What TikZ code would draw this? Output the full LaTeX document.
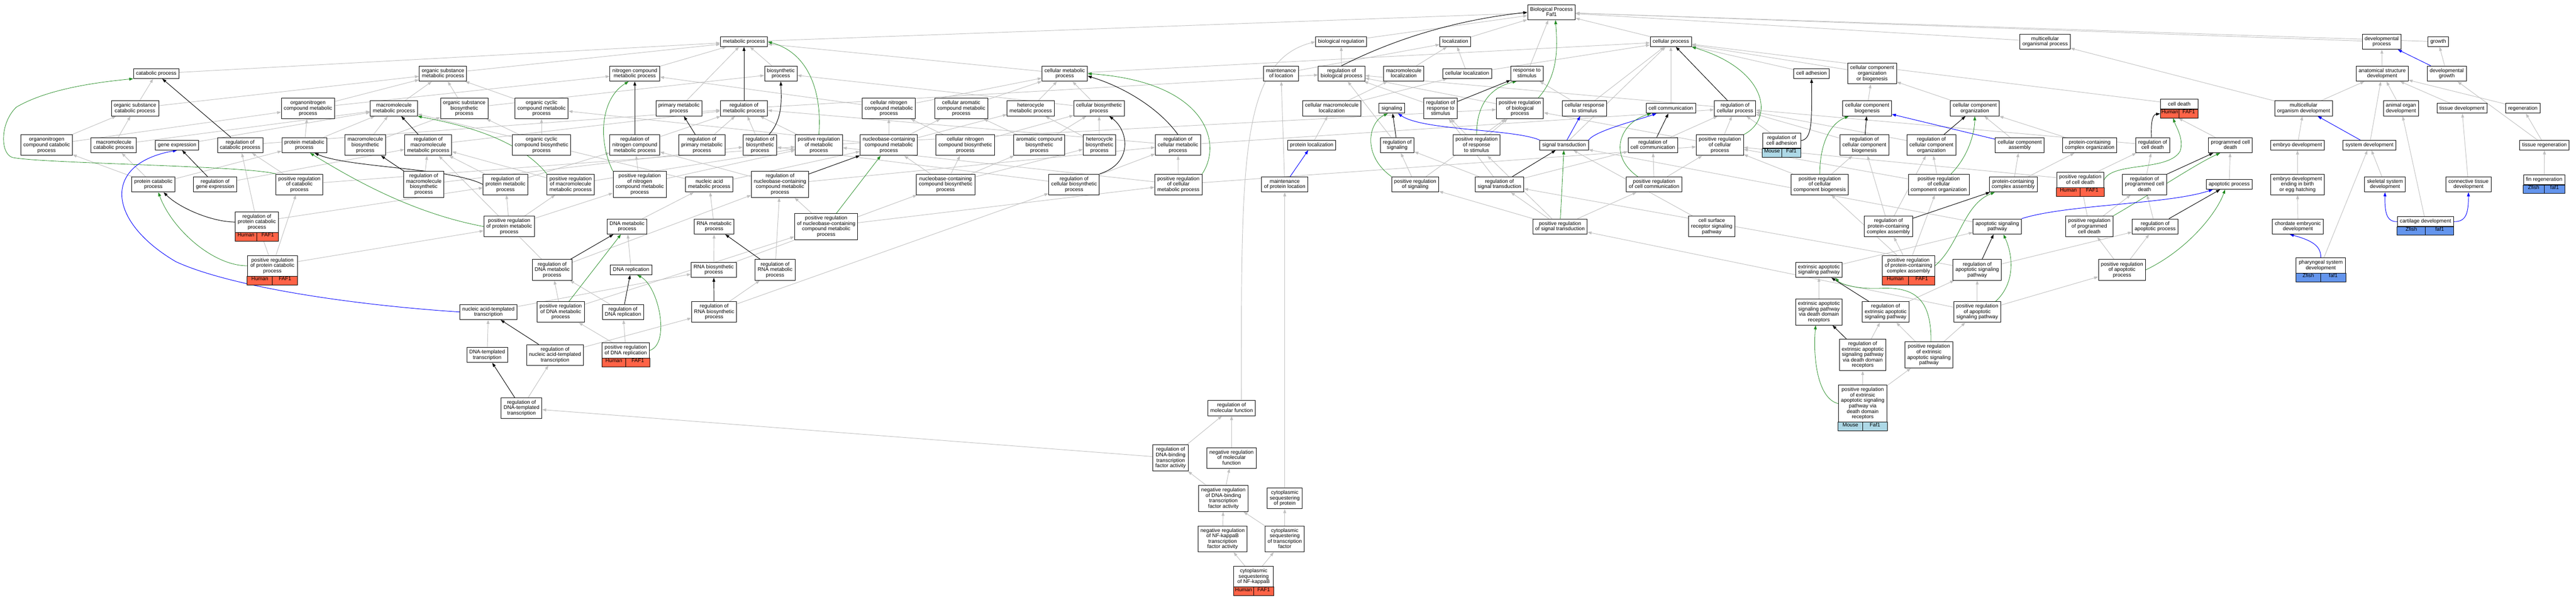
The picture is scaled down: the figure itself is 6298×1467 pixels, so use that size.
\documentclass[tikz,border=0pt]{standalone}
\usepackage{fontspec}
\setmainfont{Liberation Sans}
\usetikzlibrary{arrows.meta,backgrounds,fit}
\definecolor{humanC}{HTML}{FF6347}
\definecolor{mouseC}{HTML}{ADD8E6}
\definecolor{zfishC}{HTML}{6495ED}
\definecolor{isaC}{HTML}{C0C0C0}
\definecolor{posC}{HTML}{228B22}
\newcommand{\boxfont}{\fontsize{12.8}{13.3}\selectfont}
\newcommand{\species}[4]{%
	\node[cellbox, fill=#2, fit={(#1.south west) ([yshift=-21pt]#1.south)}] (#1-l) {#3};
	\node[cellbox, fill=#2, fit={(#1.south) ([yshift=-21pt]#1.south east)}] (#1-r) {#4};}

\begin{document}
\begin{tikzpicture}[x=1pt, y=-1pt,
	term/.style={draw, fill=white, line width=1.2pt, align=center, inner xsep=6pt, inner ysep=6pt, font=\boxfont,
		execute at begin node={\vphantom{Ag}}, execute at end node={\vphantom{g}}},
	cellbox/.style={draw, line width=1.2pt, inner sep=0pt, font=\boxfont},
	isa/.style={draw=isaC, line width=1.2pt, -{Triangle[length=10pt,width=7pt]}},
	reg/.style={isa, draw=black},
	posreg/.style={isa, draw=posC, line width=1pt},
	partof/.style={isa, draw=blue}]
	\useasboundingbox (0,0) rectangle (6298,1467);

	\node[term] (bp) at (3793,30) {Biological Process\\Faf1};
	\node[term] (metab) at (1819,102) {metabolic process};
	\node[term] (bioreg) at (3279,102) {biological regulation};
	\node[term] (loc) at (3558,102) {localization};
	\node[term] (cellp) at (4085,102) {cellular process};
	\node[term] (mop) at (5000,102) {multicellular\\organismal process};
	\node[term] (devp) at (5823,102) {developmental\\process};
	\node[term] (growth) at (5961,102) {growth};

	\node[term] (catab) at (382,180) {catabolic process};
	\node[term] (osmp) at (1083,180) {organic substance\\metabolic process};
	\node[term] (ncmp) at (1552,180) {nitrogen compound\\metabolic process};
	\node[term] (biosyn) at (1909,180) {biosynthetic\\process};
	\node[term] (cmp) at (2603,180) {cellular metabolic\\process};
	\node[term] (mloc) at (3132,180) {maintenance\\of location};
	\node[term] (rbp) at (3280,180) {regulation of\\biological process};
	\node[term] (macloc) at (3432,180) {macromolecule\\localization};
	\node[term] (cloc) at (3587,180) {cellular localization};
	\node[term] (rstim) at (3733,180) {response to\\stimulus};
	\node[term] (cadh) at (4429,180) {cell adhesion};
	\node[term] (ccob) at (4577,180) {cellular component\\organization\\or biogenesis};
	\node[term] (asd) at (5824,180) {anatomical structure\\development};
	\node[term] (devg) at (5982,180) {developmental\\growth};

	\node[term] (oscp) at (330,265) {organic substance\\catabolic process};
	\node[term] (oncmp) at (753,265) {organonitrogen\\compound metabolic\\process};
	\node[term] (mmp) at (963,265) {macromolecule\\metabolic process};
	\node[term] (osbp) at (1135,265) {organic substance\\biosynthetic\\process};
	\node[term] (occmp) at (1324,265) {organic cyclic\\compound metabolic\\process};
	\node[term] (pmp) at (1660,265) {primary metabolic\\process};
	\node[term] (rmp) at (1819,265) {regulation of\\metabolic process};
	\node[term] (cncmp) at (2173,265) {cellular nitrogen\\compound metabolic\\process};
	\node[term] (cacmp) at (2350,265) {cellular aromatic\\compound metabolic\\process};
	\node[term] (hmp) at (2520,265) {heterocycle\\metabolic process};
	\node[term] (cbp) at (2687,265) {cellular biosynthetic\\process};
	\node[term] (cmloc) at (3256,265) {cellular macromolecule\\localization};
	\node[term] (sig) at (3403,265) {signaling};
	\node[term] (rrs) at (3522,265) {regulation of\\response to\\stimulus};
	\node[term] (prbp) at (3716,265) {positive regulation\\of biological\\process};
	\node[term] (crs) at (3874,265) {cellular response\\to stimulus};
	\node[term] (ccom) at (4085,265) {cell communication};
	\node[term] (rcp) at (4242,265) {regulation of\\cellular process};
	\node[term] (ccbio) at (4565,265) {cellular component\\biogenesis};
	\node[term] (ccorg) at (4828,265) {cellular component\\organization};
	\node[term, minimum width=91pt] (cdeath) at (5328,255) {cell death};
	\species{cdeath}{humanC}{Human}{FAF1}
	\node[term] (mod) at (5632,265) {multicellular\\organism development};
	\node[term] (aod) at (5870,265) {animal organ\\development};
	\node[term] (tisd) at (6019,265) {tissue development};
	\node[term] (regen) at (6168,265) {regeneration};

	\node[term] (oncp) at (114,355) {organonitrogen\\compound catabolic\\process};
	\node[term] (mcp) at (278,355) {macromolecule\\catabolic process};
	\node[term] (gexp) at (433,355) {gene expression};
	\node[term] (rcatab) at (587,355) {regulation of\\catabolic process};
	\node[term] (prmp) at (744,355) {protein metabolic\\process};
	\node[term] (mbp) at (893,355) {macromolecule\\biosynthetic\\process};
	\node[term] (rmmp) at (1047,355) {regulation of\\macromolecule\\metabolic process};
	\node[term] (occbp) at (1324,355) {organic cyclic\\compound biosynthetic\\process};
	\node[term] (rncmp) at (1552,355) {regulation of\\nitrogen compound\\metabolic process};
	\node[term] (rpmp) at (1716,355) {regulation of\\primary metabolic\\process};
	\node[term] (rbio) at (1858,355) {regulation of\\biosynthetic\\process};
	\node[term] (pmetab) at (2002,355) {positive regulation\\of metabolic\\process};
	\node[term] (nbmp) at (2173,355) {nucleobase-containing\\compound metabolic\\process};
	\node[term] (cncbp) at (2360,355) {cellular nitrogen\\compound biosynthetic\\process};
	\node[term] (acbp) at (2541,355) {aromatic compound\\biosynthetic\\process};
	\node[term] (hbp) at (2688,355) {heterocycle\\biosynthetic\\process};
	\node[term] (rcmp) at (2880,355) {regulation of\\cellular metabolic\\process};
	\node[term] (ploc) at (3207,355) {protein localization};
	\node[term] (rsig) at (3416,355) {regulation of\\signaling};
	\node[term] (prrs) at (3610,355) {positive regulation\\of response\\to stimulus};
	\node[term] (st) at (3824,355) {signal transduction};
	\node[term] (rccom) at (4041,355) {regulation of\\cell communication};
	\node[term] (prcp) at (4205,355) {positive regulation\\of cellular\\process};
	\node[term, minimum width=93pt] (rcadh) at (4356,344) {regulation of\\cell adhesion};
	\species{rcadh}{mouseC}{Mouse}{Faf1}
	\node[term] (rccbio) at (4558,355) {regulation of\\cellular component\\biogenesis};
	\node[term] (rccorg) at (4722,355) {regulation of\\cellular component\\organization};
	\node[term] (cca) at (4938,355) {cellular component\\assembly};
	\node[term] (pcco) at (5109,355) {protein-containing\\complex organization};
	\node[term] (rcd) at (5263,355) {regulation of\\cell death};
	\node[term] (pcd) at (5453,355) {programmed cell\\death};
	\node[term] (embd) at (5617,355) {embryo development};
	\node[term] (sysd) at (5793,355) {system development};
	\node[term] (tisr) at (6221,355) {tissue regeneration};

	\node[term] (pcp) at (375,451) {protein catabolic\\process};
	\node[term] (rgexp) at (526,451) {regulation of\\gene expression};
	\node[term] (prcatab) at (732,451) {positive regulation\\of catabolic\\process};
	\node[term] (rmbp) at (1036,451) {regulation of\\macromolecule\\biosynthetic\\process};
	\node[term] (rprmp) at (1236,451) {regulation of\\protein metabolic\\process};
	\node[term] (prmmp) at (1395,451) {positive regulation\\of macromolecule\\metabolic process};
	\node[term] (prncmp) at (1564,451) {positive regulation\\of nitrogen\\compound metabolic\\process};
	\node[term] (namp) at (1734,451) {nucleic acid\\metabolic process};
	\node[term] (rnbmp) at (1907,451) {regulation of\\nucleobase-containing\\compound metabolic\\process};
	\node[term] (nbbp) at (2312,451) {nucleobase-containing\\compound biosynthetic\\process};
	\node[term] (rcbp) at (2626,451) {regulation of\\cellular biosynthetic\\process};
	\node[term] (prcmp) at (2881,451) {positive regulation\\of cellular\\metabolic process};
	\node[term] (mploc) at (3141,451) {maintenance\\of protein location};
	\node[term] (prsig) at (3460,451) {positive regulation\\of signaling};
	\node[term] (rst) at (3666,451) {regulation of\\signal transduction};
	\node[term] (prccom) at (4044,451) {positive regulation\\of cell communication};
	\node[term] (prccbio) at (4449,451) {positive regulation\\of cellular\\component biogenesis};
	\node[term] (prccorg) at (4740,451) {positive regulation\\of cellular\\component organization};
	\node[term] (pcca) at (4922,451) {protein-containing\\complex assembly};
	\node[term, minimum width=115pt] (prcd) at (5086,440) {positive regulation\\of cell death};
	\species{prcd}{humanC}{Human}{FAF1}
	\node[term] (rpcd) at (5243,451) {regulation of\\programmed cell\\death};
	\node[term] (apop) at (5450,451) {apoptotic process};
	\node[term] (embb) at (5617,451) {embryo development\\ending in birth\\or egg hatching};
	\node[term] (skel) at (5831,451) {skeletal system\\development};
	\node[term] (ctd) at (6035,451) {connective tissue\\development};
	\node[term, minimum width=100pt] (finr) at (6220,440) {fin regeneration};
	\species{finr}{zfishC}{Zfish}{faf1}

	\node[term, minimum width=105pt] (rpcp) at (628,543) {regulation of\\protein catabolic\\process};
	\species{rpcp}{humanC}{Human}{FAF1}
	\node[term] (prprmp) at (1245,554) {positive regulation\\of protein metabolic\\process};
	\node[term] (dnamp) at (1533,554) {DNA metabolic\\process};
	\node[term] (rnamp) at (1746,554) {RNA metabolic\\process};
	\node[term] (prnbmp) at (2020,554) {positive regulation\\of nucleobase-containing\\compound metabolic\\process};
	\node[term] (pst) at (3814,554) {positive regulation\\of signal transduction};
	\node[term] (csrsp) at (4185,554) {cell surface\\receptor signaling\\pathway};
	\node[term] (rpcca) at (4617,554) {regulation of\\protein-containing\\complex assembly};
	\node[term] (asp) at (4883,554) {apoptotic signaling\\pathway};
	\node[term] (prpcd) at (5108,554) {positive regulation\\of programmed\\cell death};
	\node[term] (rap) at (5269,554) {regulation of\\apoptotic process};
	\node[term] (ced) at (5618,554) {chordate embryonic\\development};
	\node[term, minimum width=137pt] (cartd) at (5930,542) {cartilage development};
	\species{cartd}{zfishC}{Zfish}{faf1}

	\node[term, minimum width=122pt] (prpcp) at (666,650) {positive regulation\\of protein catabolic\\process};
	\species{prpcp}{humanC}{Human}{FAF1}
	\node[term] (rdnamp) at (1350,660) {regulation of\\DNA metabolic\\process};
	\node[term] (dnarep) at (1543,660) {DNA replication};
	\node[term] (rnabp) at (1745,660) {RNA biosynthetic\\process};
	\node[term] (rrnamp) at (1895,660) {regulation of\\RNA metabolic\\process};
	\node[term] (easp) at (4447,660) {extrinsic apoptotic\\signaling pathway};
	\node[term, minimum width=126pt] (prpcca) at (4666,650) {positive regulation\\of protein-containing\\complex assembly};
	\species{prpcca}{humanC}{Human}{FAF1}
	\node[term] (rasp) at (4834,660) {regulation of\\apoptotic signaling\\pathway};
	\node[term] (prap) at (5188,660) {positive regulation\\of apoptotic\\process};
	\node[term, minimum width=121pt] (phsd) at (5674,649) {pharyngeal system\\development};
	\species{phsd}{zfishC}{Zfish}{faf1}

	\node[term] (nat) at (1194,763) {nucleic acid-templated\\transcription};
	\node[term] (prdnamp) at (1371,763) {positive regulation\\of DNA metabolic\\process};
	\node[term] (rdnarep) at (1523,763) {regulation of\\DNA replication};
	\node[term] (rrnabp) at (1746,763) {regulation of\\RNA biosynthetic\\process};
	\node[term] (eaddr) at (4447,763) {extrinsic apoptotic\\signaling pathway\\via death domain\\receptors};
	\node[term] (reasp) at (4610,763) {regulation of\\extrinsic apoptotic\\signaling pathway};
	\node[term] (prasp) at (4834,763) {positive regulation\\of apoptotic\\signaling pathway};

	\node[term] (dtt) at (1191,868) {DNA-templated\\transcription};
	\node[term] (rnat) at (1357,868) {regulation of\\nucleic acid-templated\\transcription};
	\node[term, minimum width=116pt] (prdnarep) at (1530,857) {positive regulation\\of DNA replication};
	\species{prdnarep}{humanC}{Human}{FAF1}
	\node[term] (readdr) at (4554,868) {regulation of\\extrinsic apoptotic\\signaling pathway\\via death domain\\receptors};
	\node[term] (preasp) at (4716,868) {positive regulation\\of extrinsic\\apoptotic signaling\\pathway};

	\node[term] (rdtt) at (1275,998) {regulation of\\DNA-templated\\transcription};
	\node[term] (rmf) at (3011,998) {regulation of\\molecular function};
	\node[term, minimum width=119pt] (preaddr) at (4554,987) {positive regulation\\of extrinsic\\apoptotic signaling\\pathway via\\death domain\\receptors};
	\species{preaddr}{mouseC}{Mouse}{Faf1}
	\node[term] (rdbtf) at (2862,1120) {regulation of\\DNA-binding\\transcription\\factor activity};
	\node[term] (nrmf) at (3011,1120) {negative regulation\\of molecular\\function};
	\node[term] (nrdbtf) at (2991,1219) {negative regulation\\of DNA-binding\\transcription\\factor activity};
	\node[term] (csp) at (3141,1219) {cytoplasmic\\sequestering\\of protein};
	\node[term] (nrnfkb) at (2989,1318) {negative regulation\\of NF-kappaB\\transcription\\factor activity};
	\node[term] (cstf) at (3141,1318) {cytoplasmic\\sequestering\\of transcription\\factor};
	\node[term, minimum width=97pt] (csnfkb) at (3065,1410) {cytoplasmic\\sequestering\\of NF-kappaB};
	\species{csnfkb}{humanC}{Human}{FAF1}

	\begin{scope}[on background layer]
	\foreach \a/\b in {metab/bp, bioreg/bp, loc/bp, rstim/bp, cellp/bp, mop/bp, devp/bp, growth/bp,
		catab/metab, osmp/metab, ncmp/metab, biosyn/metab, pmp/metab, cmp/metab,
		oscp/catab, oscp/osmp, oncmp/osmp, oncmp/ncmp, mmp/osmp,
		oncp/oscp, oncp/oncmp, mcp/oscp, mcp/mmp, gexp/mmp, rcatab/rmp,
		prmp/oncmp, prmp/mmp, mbp/mmp, mbp/osbp, rmmp/rmp,
		pcp/mcp, pcp/oncp, pcp/prmp, rgexp/rmmp, prcatab/rcatab, prcatab/pmetab,
		rmbp/rmmp, rmbp/rbio, rpcp/rcatab, rpcp/rprmp,
		prpcp/rpcp, prpcp/prcatab, prpcp/prprmp,
		osbp/osmp, osbp/biosyn, occmp/osmp, rmp/rbp,
		cncmp/ncmp, cncmp/cmp, occbp/occmp, occbp/osbp,
		rncmp/rmp, rpmp/rmp, rbio/rmp, pmetab/rmp, pmetab/prbp,
		nbmp/cncmp, nbmp/cacmp, nbmp/hmp, nbmp/occmp,
		rprmp/rmmp, rprmp/rncmp, prmmp/rmmp, prmmp/pmetab,
		prncmp/rncmp, prncmp/pmetab, namp/nbmp, namp/mmp,
		rnbmp/rcmp, rnbmp/rncmp,
		prprmp/rprmp, prprmp/prmmp, prprmp/prncmp,
		dnamp/namp, rnamp/namp, prnbmp/rnbmp, prnbmp/prcmp,
		rdnamp/rnbmp, rdnamp/rmmp, dnarep/dnamp, rnabp/rnamp, rnabp/nbbp, rrnamp/rnbmp,
		nat/rnabp, prdnamp/rdnamp, prdnamp/prnbmp, rdnarep/rdnamp,
		rrnabp/rrnamp, rrnabp/rcbp, dtt/nat, rnat/rrnabp,
		prdnarep/rdnarep, prdnarep/prdnamp, rdtt/rnat,
		rdbtf/rdtt, rdbtf/rmf, nrmf/rmf, nrdbtf/rdbtf, nrdbtf/nrmf,
		nrnfkb/nrdbtf, cstf/nrdbtf, cstf/csp, csp/mploc, csnfkb/nrnfkb, csnfkb/cstf,
		mploc/mloc, mloc/loc, cmp/cellp,
		cacmp/cmp, hmp/cmp, cbp/cmp, cbp/biosyn,
		cncbp/cncmp, cncbp/cbp, acbp/cacmp, acbp/cbp, hbp/hmp, hbp/cbp,
		rcmp/rmp, rcmp/rcp, nbbp/nbmp, nbbp/cncbp, nbbp/acbp, nbbp/hbp,
		rcbp/rcmp, rcbp/rbio, prcmp/rcmp, prcmp/pmetab, prcmp/prcp,
		rbp/bioreg, macloc/loc, cloc/loc, cloc/cellp, cmloc/macloc, cmloc/cloc, ploc/cmloc,
		rrs/rbp, prbp/rbp, crs/rstim, crs/cellp, ccom/cellp, rcp/rbp, rsig/rbp,
		prrs/rrs, prrs/prbp, st/cellp, rccom/rcp, prcp/rcp, prcp/prbp,
		prsig/rsig, prsig/prbp, rst/rsig, rst/rrs, rst/rccom,
		prccom/rccom, prccom/prcp, pst/rst, pst/prsig, pst/prccom, pst/prrs, csrsp/st,
		cadh/cellp, ccob/cellp, ccbio/ccob, ccorg/ccob, cdeath/cellp,
		rcadh/rcp, rccbio/rcp, rccorg/rcp, cca/ccorg, pcco/ccorg, rcd/rcp,
		prccbio/rccbio, prccbio/prcp, prccorg/rccorg, prccorg/prcp,
		pcca/cca, pcca/pcco, prcd/rcd, prcd/prcp, rpcd/rcd,
		rpcca/rccbio, rpcca/rccorg, asp/st, prpcd/rpcd, prpcd/prcd, rap/rpcd,
		easp/asp, prpcca/rpcca, prpcca/prccbio, prpcca/prccorg,
		rasp/rap, rasp/rst, prap/rap, prap/prpcd,
		eaddr/easp, reasp/rasp, prasp/rasp, prasp/prap, prasp/pst,
		readdr/reasp, preasp/reasp, preasp/prasp, preaddr/readdr, preaddr/preasp,
		pcd/cdeath-l, apop/pcd,
		asd/devp, devg/growth, mod/asd, mod/mop, aod/asd, tisd/asd, regen/asd,
		embd/mod, sysd/asd, tisr/regen, tisr/devg, embb/embd, skel/sysd, ctd/tisd,
		finr/tisr, ced/embb, cartd/aod, phsd/sysd}
		\draw[isa] (\a) -- (\b);
	\draw[isa] ([xshift=24pt]rmf.north) .. controls (3035,400) and (3030,150) .. (bioreg.west);

	\foreach \a/\b in {rcatab/catab, rgexp/gexp, rmmp/mmp, rmbp/mbp, rncmp/ncmp, rmp/metab,
		rpmp/pmp, rnbmp/nbmp, rdnamp/dnamp, rrnamp/rnamp, rdnarep/dnarep, rrnabp/rnabp,
		rnat/nat, rdtt/dtt, rrs/rstim, rsig/sig, rst/st, rccom/ccom, rcp/cellp,
		rccbio/ccbio, rccorg/ccorg, rpcca/pcca, rpcd/pcd, rap/apop, rasp/asp,
		reasp/easp, readdr/eaddr}
		\draw[reg] (\a) -- (\b);
	\foreach \a/\b in {prdnamp/dnamp, prnbmp/nbmp, pst/st}
		\draw[posreg] (\a) -- (\b);
	\foreach \a/\b in {st/crs, mploc/ploc, cca/ccbio, sysd/mod, devg/devp}
		\draw[partof] (\a) -- (\b);

	\draw[posreg] (prcatab.north west) .. controls (600,405) and (100,400) .. (30,385)
		.. controls (0,375) and (0,300) .. (40,262) .. controls (120,215) and (250,200) .. (catab.south west);
	\draw[partof] (nat.west) .. controls (850,745) and (560,700) .. (430,640)
		.. controls (260,540) and (250,400) .. (gexp.south);
	\draw[reg] (rpcp.west) .. controls (520,543) and (440,510) .. ([xshift=25pt]pcp.south);
	\draw[posreg] (prpcp.west) .. controls (520,650) and (420,560) .. ([xshift=12pt]pcp.south);
	\draw[reg] (rprmp.west) .. controls (1100,410) and (850,410) .. ([xshift=25pt]prmp.south);
	\draw[posreg] (prprmp.west) .. controls (1000,520) and (850,430) .. ([xshift=14pt]prmp.south);
	\draw[posreg] (prmmp.north west) .. controls (1260,330) and (1100,300) .. (mmp.south east);
	\draw[posreg] (prncmp.north west) .. controls (1460,340) and (1470,240) .. ([xshift=-15pt]ncmp.south);
	\draw[posreg] (pmetab.north) .. controls (2010,230) and (1980,130) .. (metab.east);
	\draw[reg] ([xshift=22pt]rbio.north) .. controls (1915,290) and (1910,240) .. (biosyn.south);
	\draw[posreg] (prdnarep.east) .. controls (1640,840) and (1610,700) .. ([xshift=15pt]dnarep.south);
	\draw[reg] (rcbp.north east) .. controls (2770,400) and (2760,320) .. ([xshift=25pt]cbp.south);
	\draw[reg] (rcmp.north) .. controls (2830,260) and (2740,210) .. ([yshift=-6pt]cmp.east);
	\draw[posreg] (prcmp.north east) .. controls (2990,350) and (2950,200) .. (cmp.east);
	\draw[reg] (rbp.north) .. controls (3400,100) and (3550,50) .. (bp.west);
	\draw[posreg] ([xshift=45pt]prbp.north) .. controls (3815,180) and (3806,100) .. ([xshift=10pt]bp.south);
	\draw[posreg] (prrs.north) .. controls (3610,260) and (3640,215) .. ([xshift=-25pt]rstim.south);
	\draw[posreg] (prsig.north west) .. controls (3330,380) and (3345,300) .. ([xshift=-10pt]sig.south);
	\draw[partof] (st.north west) .. controls (3700,315) and (3480,320) .. ([xshift=15pt]sig.south);
	\draw[partof] (st.north east) .. controls (3900,320) and (4000,295) .. ([xshift=-35pt]ccom.south);
	\draw[posreg] ([xshift=-40pt]prccom.north) .. controls (3930,380) and (3960,300) .. ([xshift=-48pt]ccom.south);
	\draw[posreg] (prcp.north east) .. controls (4340,290) and (4320,170) .. (cellp.south east);
	\draw[reg] (rcadh.east) .. controls (4430,340) and (4430,300) .. (cadh.south);
	\draw[posreg] (prccbio.north) .. controls (4450,340) and (4480,300) .. ([xshift=-45pt]ccbio.south);
	\draw[posreg] ([xshift=30pt]prccorg.north) .. controls (4815,380) and (4828,320) .. (ccorg.south);
	\draw[posreg] (prpcca.east) .. controls (4790,600) and (4800,500) .. ([xshift=-45pt]pcca.south);
	\draw[reg] ([xshift=-3pt]rcd.north) .. controls (5258,290) and (5265,280) .. (cdeath-l.west);
	\draw[posreg] (prcd.east) .. controls (5165,395) and (5300,420) .. (5330,370)
		.. controls (5340,340) and (5320,310) .. ([xshift=8pt]cdeath-l.south);
	\draw[posreg] (prpcd.north east) .. controls (5250,480) and (5370,400) .. ([xshift=-25pt]pcd.south);
	\draw[partof] (asp.north east) .. controls (5050,500) and (5300,500) .. ([xshift=-40pt]apop.south);
	\draw[posreg] (prap.east) .. controls (5350,610) and (5420,520) .. ([xshift=-10pt]apop.south);
	\draw[posreg] ([xshift=45pt]prasp.north) .. controls (4930,690) and (4920,620) .. ([xshift=15pt]asp.south);
	\draw[posreg] ([xshift=5pt]preasp.north) .. controls (4722,730) and (4680,702) .. (4600,705)
		.. controls (4540,708) and (4500,695) .. ([xshift=40pt]easp.south);
	\draw[posreg] (preaddr.west) .. controls (4445,975) and (4432,880) .. ([xshift=-8pt]eaddr.south);
	\draw[partof] (phsd.north) .. controls (5674,605) and (5660,590) .. ([xshift=-20pt]ced.south);
	\draw[partof] (cartd.west) .. controls (5835,543) and (5830,520) .. (skel.south);
	\draw[partof] (cartd.east) .. controls (6030,543) and (6035,520) .. (ctd.south);
	\end{scope}
\end{tikzpicture}
\end{document}
